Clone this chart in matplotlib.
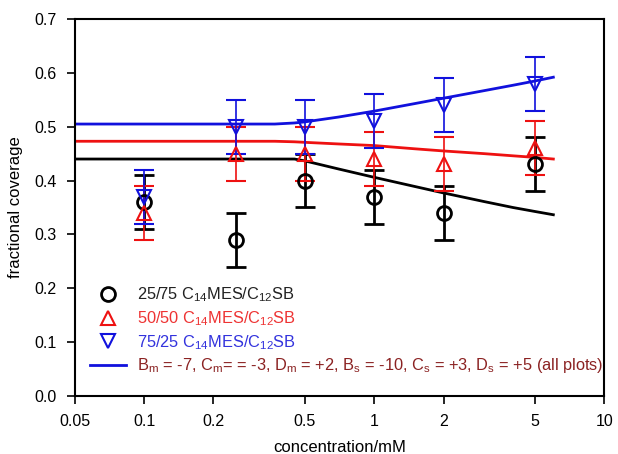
import numpy as np
import matplotlib.pyplot as plt
from matplotlib.lines import Line2D

plt.rcParams['font.family'] = ['Liberation Sans', 'DejaVu Sans']
plt.rcParams['mathtext.default'] = 'regular'

conc = [0.1, 0.25, 0.5, 1, 2, 5]
cov_25 = [0.36, 0.29, 0.40, 0.37, 0.34, 0.43]
cov_50 = [0.34, 0.45, 0.45, 0.44, 0.43, 0.46]
cov_75 = [0.37, 0.50, 0.50, 0.51, 0.54, 0.58]
err = 0.05

fit_x = [0.05, 0.1, 0.2, 0.37, 0.45, 0.5, 0.7, 1, 1.5, 2, 3, 4, 5, 6]
fit_25 = [0.44, 0.44, 0.44, 0.44, 0.44, 0.4365, 0.4215, 0.406, 0.389, 0.377, 0.361, 0.350, 0.3425, 0.3365]
fit_50 = [0.473, 0.473, 0.473, 0.473, 0.472, 0.471, 0.468, 0.465, 0.459, 0.455, 0.45, 0.446, 0.443, 0.44]
fit_75 = [0.505, 0.505, 0.505, 0.505, 0.507, 0.509, 0.518, 0.529, 0.543, 0.553, 0.567, 0.577, 0.585, 0.592]

fig = plt.figure(figsize=(6.18, 4.54), dpi=100)
ax = fig.add_axes([0.121, 0.128, 0.857, 0.83])

ax.plot(fit_x, fit_25, color='black', lw=2)
ax.plot(fit_x, fit_50, color='#ee1111', lw=2)
ax.plot(fit_x, fit_75, color='#1111dd', lw=2)

ax.errorbar(conc, cov_25, yerr=err, fmt='o', ms=10, mfc='none', mec='black', mew=2,
            ecolor='black', elinewidth=2, capsize=7, capthick=2)
ax.errorbar(conc, cov_50, yerr=err, fmt='^', ms=10, mfc='none', mec='#ee1111', mew=1.5,
            ecolor='#ee1111', elinewidth=1.2, capsize=7, capthick=1.2)
ax.errorbar(conc, cov_75, yerr=err, fmt='v', ms=10, mfc='none', mec='#1111dd', mew=1.5,
            ecolor='#1111dd', elinewidth=1.2, capsize=7, capthick=1.2)

ax.set_xscale('log')
ax.set_xlim(0.05, 10)
ax.set_ylim(0, 0.7)
xt = [0.05, 0.1, 0.2, 0.5, 1, 2, 5, 10]
ax.set_xticks(xt)
ax.set_xticklabels(['0.05', '0.1', '0.2', '0.5', '1', '2', '5', '10'])
ax.xaxis.set_minor_locator(plt.NullLocator())
ax.set_yticks(np.arange(0, 0.71, 0.1))
ax.set_yticklabels(['%.1f' % v for v in np.arange(0, 0.71, 0.1)])
ax.tick_params(direction='out', length=6, width=1.2, labelsize=11.5, pad=7)
for s in ax.spines.values():
    s.set_linewidth(1.5)

ax.set_xlabel('concentration/mM', fontsize=12, labelpad=8)
ax.set_ylabel('fractional coverage', fontsize=12, labelpad=8)

handles = [
    Line2D([], [], ls='none', marker='o', ms=10, mfc='none', mec='black', mew=2),
    Line2D([], [], ls='none', marker='^', ms=10, mfc='none', mec='#ee1111', mew=1.5),
    Line2D([], [], ls='none', marker='v', ms=10, mfc='none', mec='#1111dd', mew=1.5),
    Line2D([], [], color='#1111dd', lw=2),
]
labels = [
    '25/75 C$_{14}$MES/C$_{12}$SB',
    '50/50 C$_{14}$MES/C$_{12}$SB',
    '75/25 C$_{14}$MES/C$_{12}$SB',
    'B$_m$ = -7, C$_m$= = -3, D$_m$ = +2, B$_s$ = -10, C$_s$ = +3, D$_s$ = +5 (all plots)',
]
ax.legend(handles, labels, loc='lower left', bbox_to_anchor=(0.0, 0.015), frameon=False,
          fontsize=11.8, labelcolor=['#222222', '#ee3333', '#3333dd', '#8b2222'],
          handlelength=2.2, handletextpad=0.7, labelspacing=0.3)

fig.savefig('out.png', dpi=100)
